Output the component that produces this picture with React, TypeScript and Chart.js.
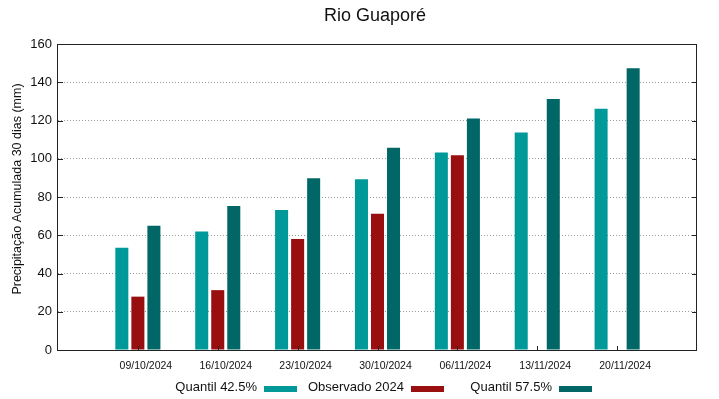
import React, { useEffect, useRef } from 'react';
import { Chart, registerables } from 'chart.js';

Chart.register(...registerables);

const chartTitle = 'Rio Guaporé';
const yAxisTitle = 'Precipitação Acumulada 30 dias (mm)';
const dates = ['09/10/2024', '16/10/2024', '23/10/2024', '30/10/2024', '06/11/2024', '13/11/2024', '20/11/2024'];
const quantil425 = [53.4, 62.0, 73.2, 89.3, 103.3, 113.7, 126.2];
const observado2024: (number | null)[] = [27.9, 31.3, 58.0, 71.2, 101.8, null, null];
const quantil575 = [65.0, 75.3, 89.8, 105.7, 121.1, 131.2, 147.3];
const seriesNames = ['Quantil 42.5%', 'Observado 2024', 'Quantil 57.5%'];
const seriesColors = ['#009999', '#990f0f', '#006666'];

const FONT = '"Liberation Sans", Arial, sans-serif';

const decorPlugin = {
  id: 'decor',
  afterDraw(chart: any) {
    const { ctx, chartArea } = chart;
    const { left, right, top, bottom } = chartArea;
    const xs = chart.scales.x;
    const ys = chart.scales.y;
    ctx.save();
    // frame
    ctx.strokeStyle = '#222';
    ctx.lineWidth = 1;
    ctx.setLineDash([]);
    ctx.strokeRect(Math.round(left) - 0.5, Math.round(top) + 0.5, Math.round(right - left), Math.round(bottom - top));
    // inward ticks
    ctx.beginPath();
    ys.ticks.forEach((t: any) => {
      const y = Math.round(ys.getPixelForValue(t.value)) + 0.5;
      ctx.moveTo(left, y);
      ctx.lineTo(left + 5, y);
      ctx.moveTo(right, y);
      ctx.lineTo(right - 5, y);
    });
    xs.ticks.forEach((t: any) => {
      const x = Math.round(xs.getPixelForValue(t.value)) + 0.5;
      ctx.moveTo(x, bottom);
      ctx.lineTo(x, bottom - 4);
    });
    ctx.stroke();

    // title
    ctx.fillStyle = '#111';
    ctx.font = `18px ${FONT}`;
    ctx.textAlign = 'center';
    ctx.textBaseline = 'middle';
    ctx.fillText(chartTitle, 375, 16);

    // y axis title
    ctx.save();
    ctx.translate(18, 189);
    ctx.rotate(-Math.PI / 2);
    ctx.font = `12.5px ${FONT}`;
    ctx.fillText(yAxisTitle, 0, 0);
    ctx.restore();

    // legend (text then swatch)
    const textRight = [257, 404, 552];
    ctx.font = `13px ${FONT}`;
    ctx.textAlign = 'right';
    ctx.textBaseline = 'middle';
    seriesNames.forEach((name, i) => {
      ctx.fillStyle = '#111';
      ctx.fillText(name, textRight[i], 387);
      ctx.fillStyle = seriesColors[i];
      ctx.fillRect(textRight[i] + 7, 386, 33, 6);
    });
    ctx.restore();
  },
};

export default function App() {
  const ref = useRef<HTMLCanvasElement>(null);
  useEffect(() => {
    if (!ref.current) return;
    const toPts = (arr: (number | null)[]) => arr.map((v, i) => ({ x: i, y: v }));
    const chart = new Chart(ref.current, {
      type: 'bar',
      data: {
        datasets: [
          { label: seriesNames[0], data: toPts(quantil425) as any, backgroundColor: seriesColors[0] },
          { label: seriesNames[1], data: toPts(observado2024) as any, backgroundColor: seriesColors[1] },
          { label: seriesNames[2], data: toPts(quantil575) as any, backgroundColor: seriesColors[2] },
        ],
      },
      options: {
        responsive: false,
        animation: false,
        devicePixelRatio: 1,
        layout: { padding: { left: 0, right: 22, top: 44, bottom: 0 } },
        datasets: { bar: { categoryPercentage: 0.602, barPercentage: 0.8125 } } as any,
        plugins: { legend: { display: false }, title: { display: false }, tooltip: { enabled: false } },
        scales: {
          x: {
            type: 'linear',
            min: -1,
            max: 7,
            offset: false,
            afterBuildTicks: (s: any) => {
              s.ticks = dates.map((_, i) => ({ value: i }));
            },
            afterFit: (s: any) => {
              s.height = 49;
            },
            grid: { display: false, drawTicks: false },
            border: { display: false },
            ticks: {
              autoSkip: false,
              maxRotation: 0,
              padding: 10,
              labelOffset: 8,
              color: '#111',
              font: { family: FONT, size: 10.5 },
              callback: (v: any) => dates[v] ?? '',
            },
          },
          y: {
            min: 0,
            max: 160,
            afterFit: (s: any) => {
              s.width = 58;
            },
            grid: { color: '#9a9a9a', drawTicks: false, lineWidth: 1 },
            border: { display: false, dash: [1, 2] },
            ticks: {
              stepSize: 20,
              padding: 6,
              color: '#111',
              font: { family: FONT, size: 13 },
            },
          },
        },
      },
      plugins: [decorPlugin],
    });
    return () => chart.destroy();
  }, []);
  return (
    <div style={{ position: 'absolute', left: 0, top: 0, width: 719, height: 399, background: '#fff' }}>
      <canvas ref={ref} width={719} height={399} style={{ display: 'block' }} />
    </div>
  );
}
